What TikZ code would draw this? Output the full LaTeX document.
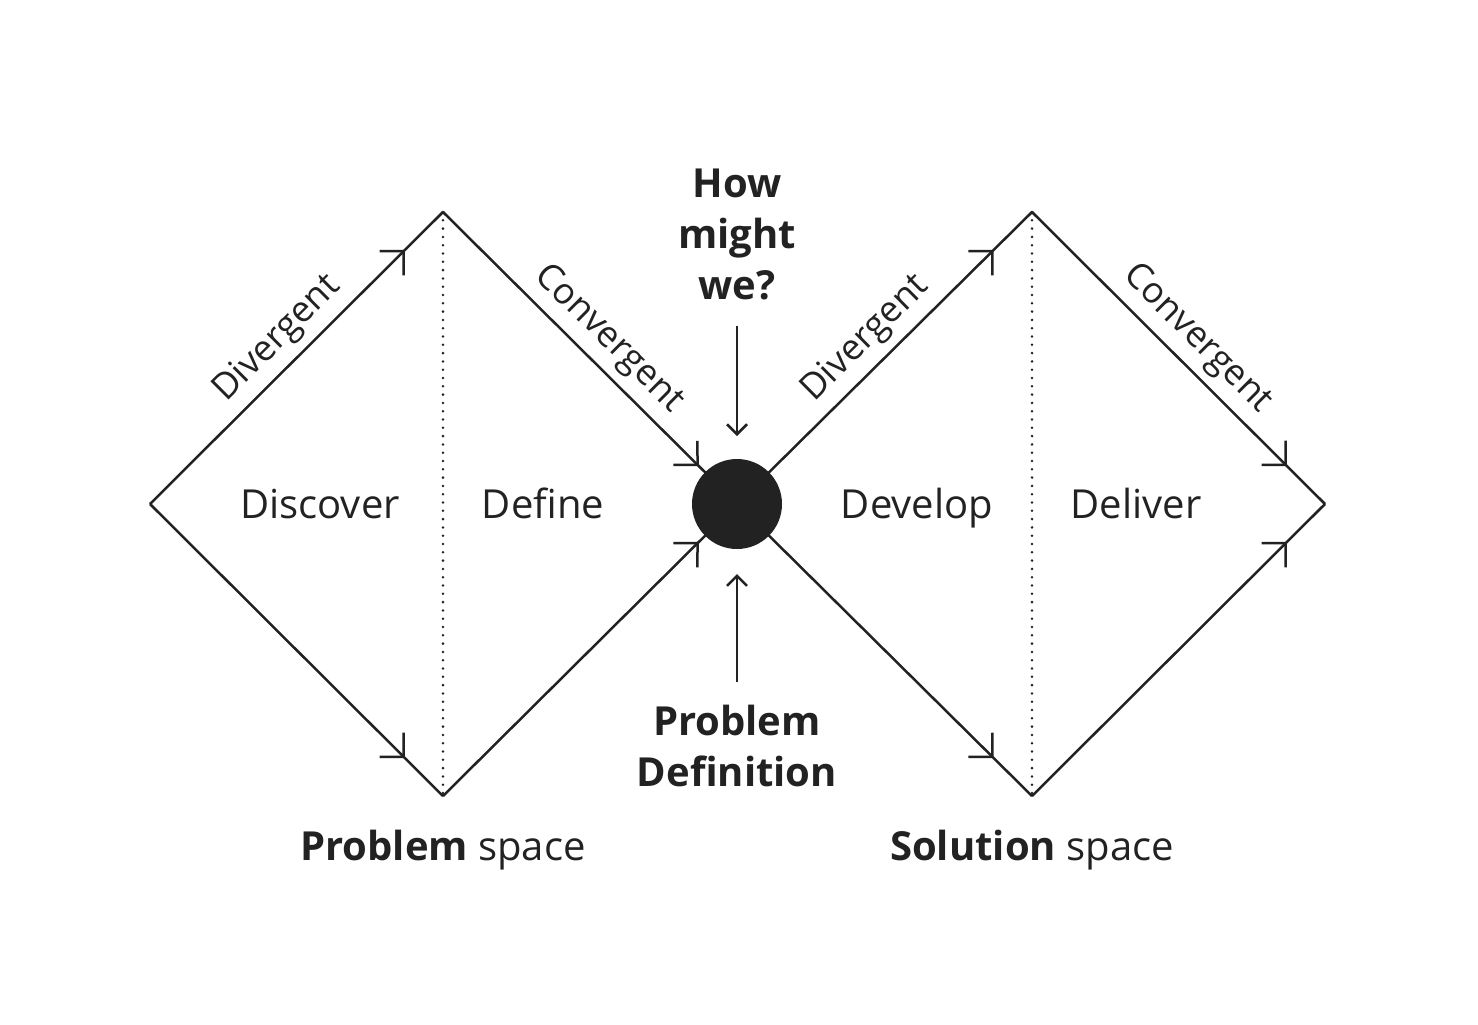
\documentclass[tikz,border=0pt]{standalone}
\usepackage{fontspec}
\setmainfont{Open Sans}
\usepackage{xcolor}
\usetikzlibrary{arrows.meta, decorations.markings}
\definecolor{ink}{HTML}{222222}

\tikzset{
  edge/.style={draw=ink, line width=1.25pt, postaction={decorate},
    decoration={markings, mark=at position 0.87 with {\arrow[ink]{Straight Barb[length=8.5pt, width=17pt]}}}},
  dotline/.style={draw=ink, line width=1.4pt, line cap=round, dash pattern=on 0pt off 4.15pt},
  phase/.style={font=\fontsize{20}{24}\selectfont, text=ink, anchor=base},
  mode/.style={font=\fontsize{18}{22}\selectfont, text=ink, sloped, above, inner sep=4pt, pos=0.5},
  question/.style={font=\fontsize{20}{25.5}\selectfont\bfseries, text=ink, align=center},
  space/.style={font=\fontsize{20}{24}\selectfont, text=ink}
}

\begin{document}
\begin{tikzpicture}[x=0.5pt, y=-0.5pt, >={Straight Barb[length=5pt, width=10pt]}]
  \useasboundingbox (0,0) rectangle (1478,1024);
  % double diamond corners
  \coordinate (lw) at (150,504);
  \coordinate (lt) at (443,212);
  \coordinate (lb) at (443,796);
  \coordinate (mid) at (737,504);
  \coordinate (rt) at (1032,212);
  \coordinate (rb) at (1032,796);
  \coordinate (re) at (1325,504);

  % problem space
  \draw[edge] (lw) -- (lt) node[mode] {Divergent};
  \draw[edge] (lw) -- (lb);
  \draw[edge] (lt) -- (mid) node[mode] {Convergent};
  \draw[edge] (lb) -- (mid);
  \draw[dotline] (lt) -- (lb);

  % solution space
  \draw[edge] (mid) -- (rt) node[mode] {Divergent};
  \draw[edge] (mid) -- (rb);
  \draw[edge] (rt) -- (re) node[mode] {Convergent};
  \draw[edge] (rb) -- (re);
  \draw[dotline] (rt) -- (rb);

  \node[circle, fill=ink, minimum size=45pt, inner sep=0pt] (hub) at (mid) {};

  \node[phase] (discover) at (320,518) {Discover};
  \node[phase] (define) at (543,518) {Define};
  \node[phase] (develop) at (917,518) {Develop};
  \node[phase] (deliver) at (1136,518) {Deliver};

  \node[question] (hmw) at (737,234) {How\\might\\we?};
  \node[question] (pdef) at (737,746) {Problem\\Definition};
  \coordinate (hmwend) at (737,326);
  \coordinate (pdefend) at (737,682);
  \draw[->, draw=ink, line width=1.25pt] (hmwend) -- (737,436);
  \draw[->, draw=ink, line width=1.25pt] (pdefend) -- (737,574);

  \node[space] (pspace) at (443,850) {\textbf{Problem} space};
  \node[space] (sspace) at (1032,850) {\textbf{Solution} space};
\end{tikzpicture}
\end{document}
